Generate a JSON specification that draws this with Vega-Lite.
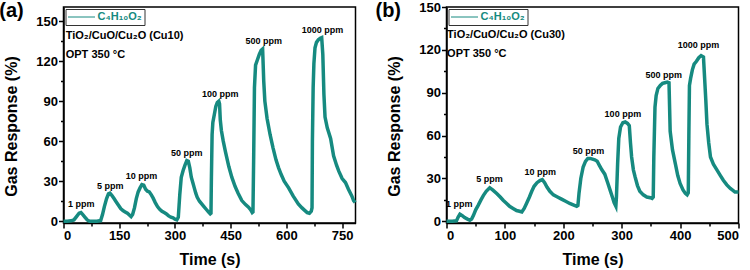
{
  "$schema": "https://vega.github.io/schema/vega-lite/v6.json",
  "padding": {"left": -2.5, "top": 0, "right": 0, "bottom": 0},
  "spacing": 11,
  "config": {
    "font": "Liberation Sans",
    "view": {"stroke": "black", "strokeWidth": 1.5},
    "axis": {
      "grid": false,
      "domainColor": "black", "domainWidth": 1.5,
      "tickColor": "black", "tickWidth": 1.5, "tickSize": 5,
      "labelFont": "Liberation Sans", "labelFontWeight": "bold", "labelFontSize": 13, "labelColor": "black", "labelPadding": 1,
      "titleFont": "Liberation Sans", "titleFontWeight": "bold", "titleFontSize": 16, "titleColor": "black"
    },
    "legend": {
      "orient": "top-left", "offset": 2, "strokeColor": "#333", "padding": 2,
      "symbolType": "stroke", "symbolStrokeWidth": 1, "symbolSize": 729, "clipHeight": 12,
      "labelFont": "Liberation Sans", "labelFontSize": 11, "labelFontWeight": "bold", "labelColor": "#168a80", "labelOffset": 2
    }
  },
  "resolve": {"scale": {"color": "independent"}, "legend": {"color": "independent"}},
  "datasets": {
    "a": [
      {"t":0,"v":0,"gas":"C₄H₁₀O₂"},{"t":10,"v":0,"gas":"C₄H₁₀O₂"},{"t":20,"v":0.3,"gas":"C₄H₁₀O₂"},{"t":28,"v":1,"gas":"C₄H₁₀O₂"},{"t":35,"v":3.5,"gas":"C₄H₁₀O₂"},{"t":42,"v":6,"gas":"C₄H₁₀O₂"},{"t":47,"v":6.5,"gas":"C₄H₁₀O₂"},{"t":52,"v":5,"gas":"C₄H₁₀O₂"},{"t":58,"v":3,"gas":"C₄H₁₀O₂"},{"t":64,"v":1,"gas":"C₄H₁₀O₂"},{"t":70,"v":0,"gas":"C₄H₁₀O₂"},{"t":80,"v":0,"gas":"C₄H₁₀O₂"},{"t":90,"v":0,"gas":"C₄H₁₀O₂"},{"t":100,"v":0.5,"gas":"C₄H₁₀O₂"},
      {"t":105,"v":5,"gas":"C₄H₁₀O₂"},{"t":110,"v":11,"gas":"C₄H₁₀O₂"},{"t":116,"v":17,"gas":"C₄H₁₀O₂"},{"t":121,"v":20.5,"gas":"C₄H₁₀O₂"},{"t":125,"v":21,"gas":"C₄H₁₀O₂"},{"t":130,"v":19.5,"gas":"C₄H₁₀O₂"},{"t":136,"v":17,"gas":"C₄H₁₀O₂"},{"t":142,"v":14.5,"gas":"C₄H₁₀O₂"},{"t":148,"v":12,"gas":"C₄H₁₀O₂"},{"t":154,"v":9.5,"gas":"C₄H₁₀O₂"},{"t":160,"v":8,"gas":"C₄H₁₀O₂"},{"t":166,"v":7,"gas":"C₄H₁₀O₂"},{"t":172,"v":6,"gas":"C₄H₁₀O₂"},{"t":178,"v":4.5,"gas":"C₄H₁₀O₂"},{"t":182,"v":3.5,"gas":"C₄H₁₀O₂"},
      {"t":186,"v":5,"gas":"C₄H₁₀O₂"},{"t":191,"v":10,"gas":"C₄H₁₀O₂"},{"t":196,"v":17,"gas":"C₄H₁₀O₂"},{"t":201,"v":22,"gas":"C₄H₁₀O₂"},{"t":206,"v":25,"gas":"C₄H₁₀O₂"},{"t":211,"v":27.5,"gas":"C₄H₁₀O₂"},{"t":216,"v":27,"gas":"C₄H₁₀O₂"},{"t":221,"v":24,"gas":"C₄H₁₀O₂"},{"t":226,"v":22.5,"gas":"C₄H₁₀O₂"},{"t":231,"v":22,"gas":"C₄H₁₀O₂"},{"t":236,"v":20,"gas":"C₄H₁₀O₂"},{"t":241,"v":17.5,"gas":"C₄H₁₀O₂"},{"t":247,"v":14,"gas":"C₄H₁₀O₂"},{"t":253,"v":11,"gas":"C₄H₁₀O₂"},{"t":259,"v":9,"gas":"C₄H₁₀O₂"},{"t":265,"v":7.5,"gas":"C₄H₁₀O₂"},{"t":271,"v":6.5,"gas":"C₄H₁₀O₂"},{"t":277,"v":5.5,"gas":"C₄H₁₀O₂"},{"t":283,"v":4,"gas":"C₄H₁₀O₂"},{"t":289,"v":3,"gas":"C₄H₁₀O₂"},{"t":295,"v":2.5,"gas":"C₄H₁₀O₂"},{"t":300,"v":1.5,"gas":"C₄H₁₀O₂"},{"t":305,"v":1,"gas":"C₄H₁₀O₂"},
      {"t":309,"v":3,"gas":"C₄H₁₀O₂"},{"t":313,"v":20,"gas":"C₄H₁₀O₂"},{"t":317,"v":33,"gas":"C₄H₁₀O₂"},{"t":322,"v":38,"gas":"C₄H₁₀O₂"},{"t":327,"v":42,"gas":"C₄H₁₀O₂"},{"t":332,"v":45.5,"gas":"C₄H₁₀O₂"},{"t":336,"v":45,"gas":"C₄H₁₀O₂"},{"t":340,"v":40,"gas":"C₄H₁₀O₂"},{"t":344,"v":33,"gas":"C₄H₁₀O₂"},{"t":348,"v":29,"gas":"C₄H₁₀O₂"},{"t":352,"v":25,"gas":"C₄H₁₀O₂"},{"t":356,"v":21,"gas":"C₄H₁₀O₂"},{"t":360,"v":18,"gas":"C₄H₁₀O₂"},{"t":366,"v":15,"gas":"C₄H₁₀O₂"},{"t":372,"v":13,"gas":"C₄H₁₀O₂"},{"t":378,"v":11,"gas":"C₄H₁₀O₂"},{"t":384,"v":9,"gas":"C₄H₁₀O₂"},{"t":390,"v":7,"gas":"C₄H₁₀O₂"},{"t":395,"v":5.5,"gas":"C₄H₁₀O₂"},{"t":397,"v":6,"gas":"C₄H₁₀O₂"},
      {"t":398,"v":30,"gas":"C₄H₁₀O₂"},{"t":400,"v":65,"gas":"C₄H₁₀O₂"},{"t":402,"v":74,"gas":"C₄H₁₀O₂"},{"t":406,"v":80,"gas":"C₄H₁₀O₂"},{"t":410,"v":86,"gas":"C₄H₁₀O₂"},{"t":414,"v":89,"gas":"C₄H₁₀O₂"},{"t":418,"v":90,"gas":"C₄H₁₀O₂"},{"t":420,"v":88,"gas":"C₄H₁₀O₂"},{"t":422,"v":76,"gas":"C₄H₁₀O₂"},{"t":425,"v":68,"gas":"C₄H₁₀O₂"},{"t":430,"v":60,"gas":"C₄H₁₀O₂"},{"t":436,"v":52,"gas":"C₄H₁₀O₂"},{"t":445,"v":41,"gas":"C₄H₁₀O₂"},{"t":453,"v":33,"gas":"C₄H₁₀O₂"},{"t":462,"v":26,"gas":"C₄H₁₀O₂"},{"t":470,"v":21,"gas":"C₄H₁₀O₂"},{"t":480,"v":15.5,"gas":"C₄H₁₀O₂"},{"t":490,"v":12.5,"gas":"C₄H₁₀O₂"},{"t":498,"v":10.5,"gas":"C₄H₁₀O₂"},{"t":504,"v":8.5,"gas":"C₄H₁₀O₂"},{"t":508,"v":6.5,"gas":"C₄H₁₀O₂"},{"t":510,"v":7,"gas":"C₄H₁₀O₂"},
      {"t":512,"v":50,"gas":"C₄H₁₀O₂"},{"t":514,"v":100,"gas":"C₄H₁₀O₂"},{"t":517,"v":117,"gas":"C₄H₁₀O₂"},{"t":522,"v":121,"gas":"C₄H₁₀O₂"},{"t":527,"v":125,"gas":"C₄H₁₀O₂"},{"t":532,"v":128,"gas":"C₄H₁₀O₂"},{"t":536,"v":129,"gas":"C₄H₁₀O₂"},{"t":539,"v":105,"gas":"C₄H₁₀O₂"},{"t":542,"v":90,"gas":"C₄H₁₀O₂"},{"t":548,"v":77,"gas":"C₄H₁₀O₂"},{"t":556,"v":65,"gas":"C₄H₁₀O₂"},{"t":564,"v":55,"gas":"C₄H₁₀O₂"},{"t":572,"v":46,"gas":"C₄H₁₀O₂"},{"t":579,"v":40,"gas":"C₄H₁₀O₂"},{"t":586,"v":35,"gas":"C₄H₁₀O₂"},{"t":594,"v":30,"gas":"C₄H₁₀O₂"},{"t":606,"v":25,"gas":"C₄H₁₀O₂"},{"t":618,"v":19,"gas":"C₄H₁₀O₂"},{"t":632,"v":13,"gas":"C₄H₁₀O₂"},{"t":642,"v":10,"gas":"C₄H₁₀O₂"},{"t":650,"v":8,"gas":"C₄H₁₀O₂"},{"t":656,"v":6.5,"gas":"C₄H₁₀O₂"},{"t":662,"v":6,"gas":"C₄H₁₀O₂"},{"t":667,"v":7.5,"gas":"C₄H₁₀O₂"},{"t":669,"v":10,"gas":"C₄H₁₀O₂"},
      {"t":670,"v":60,"gas":"C₄H₁₀O₂"},{"t":672,"v":100,"gas":"C₄H₁₀O₂"},{"t":674,"v":118,"gas":"C₄H₁₀O₂"},{"t":677,"v":130,"gas":"C₄H₁₀O₂"},{"t":681,"v":134,"gas":"C₄H₁₀O₂"},{"t":686,"v":136,"gas":"C₄H₁₀O₂"},{"t":691,"v":137,"gas":"C₄H₁₀O₂"},{"t":695,"v":137.5,"gas":"C₄H₁₀O₂"},{"t":698,"v":125,"gas":"C₄H₁₀O₂"},{"t":701,"v":95,"gas":"C₄H₁₀O₂"},{"t":704,"v":78,"gas":"C₄H₁₀O₂"},{"t":710,"v":70,"gas":"C₄H₁₀O₂"},{"t":719,"v":62,"gas":"C₄H₁₀O₂"},{"t":727,"v":49,"gas":"C₄H₁₀O₂"},{"t":735,"v":42,"gas":"C₄H₁₀O₂"},{"t":741,"v":37.5,"gas":"C₄H₁₀O₂"},{"t":750,"v":32,"gas":"C₄H₁₀O₂"},{"t":759,"v":29,"gas":"C₄H₁₀O₂"},{"t":767,"v":24,"gas":"C₄H₁₀O₂"},{"t":776,"v":19,"gas":"C₄H₁₀O₂"},{"t":781,"v":15.5,"gas":"C₄H₁₀O₂"},{"t":785,"v":14,"gas":"C₄H₁₀O₂"}
    ],
    "b": [
      {"t":0,"v":0,"gas":"C₄H₁₀O₂"},{"t":10,"v":0,"gas":"C₄H₁₀O₂"},{"t":17,"v":0.3,"gas":"C₄H₁₀O₂"},{"t":20,"v":3,"gas":"C₄H₁₀O₂"},{"t":23,"v":5,"gas":"C₄H₁₀O₂"},{"t":27,"v":4,"gas":"C₄H₁₀O₂"},{"t":31,"v":2.6,"gas":"C₄H₁₀O₂"},{"t":36,"v":1.5,"gas":"C₄H₁₀O₂"},{"t":40,"v":0.7,"gas":"C₄H₁₀O₂"},{"t":43,"v":1.5,"gas":"C₄H₁₀O₂"},{"t":46,"v":4,"gas":"C₄H₁₀O₂"},{"t":50,"v":8,"gas":"C₄H₁₀O₂"},{"t":54,"v":11,"gas":"C₄H₁₀O₂"},{"t":59,"v":15,"gas":"C₄H₁₀O₂"},{"t":63,"v":18,"gas":"C₄H₁₀O₂"},{"t":68,"v":21,"gas":"C₄H₁₀O₂"},{"t":74,"v":23.5,"gas":"C₄H₁₀O₂"},{"t":79,"v":22,"gas":"C₄H₁₀O₂"},{"t":86,"v":19.5,"gas":"C₄H₁₀O₂"},{"t":92,"v":17,"gas":"C₄H₁₀O₂"},{"t":97,"v":14.7,"gas":"C₄H₁₀O₂"},{"t":103,"v":12.5,"gas":"C₄H₁₀O₂"},{"t":108,"v":10.5,"gas":"C₄H₁₀O₂"},{"t":114,"v":9,"gas":"C₄H₁₀O₂"},{"t":120,"v":7.5,"gas":"C₄H₁₀O₂"},{"t":125,"v":7,"gas":"C₄H₁₀O₂"},{"t":129,"v":6.5,"gas":"C₄H₁₀O₂"},
      {"t":133,"v":9,"gas":"C₄H₁₀O₂"},{"t":137,"v":12.5,"gas":"C₄H₁₀O₂"},{"t":142,"v":17,"gas":"C₄H₁₀O₂"},{"t":146,"v":21,"gas":"C₄H₁₀O₂"},{"t":150,"v":24.5,"gas":"C₄H₁₀O₂"},{"t":155,"v":27,"gas":"C₄H₁₀O₂"},{"t":160,"v":28.5,"gas":"C₄H₁₀O₂"},{"t":164,"v":29.2,"gas":"C₄H₁₀O₂"},{"t":168,"v":27,"gas":"C₄H₁₀O₂"},{"t":172,"v":24,"gas":"C₄H₁₀O₂"},{"t":177,"v":21,"gas":"C₄H₁₀O₂"},{"t":183,"v":18.5,"gas":"C₄H₁₀O₂"},{"t":190,"v":17,"gas":"C₄H₁₀O₂"},{"t":197,"v":15.5,"gas":"C₄H₁₀O₂"},{"t":204,"v":14,"gas":"C₄H₁₀O₂"},{"t":211,"v":12.5,"gas":"C₄H₁₀O₂"},{"t":217,"v":11.5,"gas":"C₄H₁₀O₂"},{"t":223,"v":10.5,"gas":"C₄H₁₀O₂"},
      {"t":225,"v":11,"gas":"C₄H₁₀O₂"},{"t":227,"v":20,"gas":"C₄H₁₀O₂"},{"t":230,"v":30,"gas":"C₄H₁₀O₂"},{"t":234,"v":38,"gas":"C₄H₁₀O₂"},{"t":238,"v":42,"gas":"C₄H₁₀O₂"},{"t":242,"v":44,"gas":"C₄H₁₀O₂"},{"t":246,"v":44,"gas":"C₄H₁₀O₂"},{"t":250,"v":43.5,"gas":"C₄H₁₀O₂"},{"t":254,"v":43,"gas":"C₄H₁₀O₂"},{"t":258,"v":42,"gas":"C₄H₁₀O₂"},{"t":262,"v":39,"gas":"C₄H₁₀O₂"},{"t":266,"v":36,"gas":"C₄H₁₀O₂"},{"t":271,"v":33,"gas":"C₄H₁₀O₂"},{"t":276,"v":27,"gas":"C₄H₁₀O₂"},{"t":280,"v":22,"gas":"C₄H₁₀O₂"},{"t":284,"v":17,"gas":"C₄H₁₀O₂"},{"t":287,"v":13,"gas":"C₄H₁₀O₂"},{"t":290,"v":10.5,"gas":"C₄H₁₀O₂"},
      {"t":291,"v":17,"gas":"C₄H₁₀O₂"},{"t":293,"v":40,"gas":"C₄H₁₀O₂"},{"t":295,"v":58,"gas":"C₄H₁₀O₂"},{"t":298,"v":66,"gas":"C₄H₁₀O₂"},{"t":302,"v":69,"gas":"C₄H₁₀O₂"},{"t":306,"v":69.5,"gas":"C₄H₁₀O₂"},{"t":310,"v":68.5,"gas":"C₄H₁₀O₂"},{"t":313,"v":67,"gas":"C₄H₁₀O₂"},{"t":315,"v":55,"gas":"C₄H₁₀O₂"},{"t":317,"v":45,"gas":"C₄H₁₀O₂"},{"t":320,"v":36,"gas":"C₄H₁₀O₂"},{"t":323,"v":31,"gas":"C₄H₁₀O₂"},{"t":327,"v":25,"gas":"C₄H₁₀O₂"},{"t":331,"v":21,"gas":"C₄H₁₀O₂"},{"t":337,"v":18.5,"gas":"C₄H₁₀O₂"},{"t":343,"v":17,"gas":"C₄H₁₀O₂"},{"t":349,"v":16.5,"gas":"C₄H₁₀O₂"},{"t":352,"v":16,"gas":"C₄H₁₀O₂"},{"t":354,"v":17,"gas":"C₄H₁₀O₂"},
      {"t":355,"v":45,"gas":"C₄H₁₀O₂"},{"t":357,"v":80,"gas":"C₄H₁₀O₂"},{"t":359,"v":88,"gas":"C₄H₁₀O₂"},{"t":362,"v":93,"gas":"C₄H₁₀O₂"},{"t":366,"v":95,"gas":"C₄H₁₀O₂"},{"t":370,"v":96.5,"gas":"C₄H₁₀O₂"},{"t":374,"v":97,"gas":"C₄H₁₀O₂"},{"t":378,"v":97.5,"gas":"C₄H₁₀O₂"},{"t":381,"v":97,"gas":"C₄H₁₀O₂"},{"t":383,"v":63,"gas":"C₄H₁₀O₂"},{"t":387,"v":50,"gas":"C₄H₁₀O₂"},{"t":392,"v":40,"gas":"C₄H₁₀O₂"},{"t":396,"v":32,"gas":"C₄H₁₀O₂"},{"t":400,"v":26.5,"gas":"C₄H₁₀O₂"},{"t":405,"v":22,"gas":"C₄H₁₀O₂"},{"t":409,"v":19.5,"gas":"C₄H₁₀O₂"},{"t":412,"v":18.5,"gas":"C₄H₁₀O₂"},{"t":414,"v":20,"gas":"C₄H₁₀O₂"},
      {"t":415,"v":60,"gas":"C₄H₁₀O₂"},{"t":416,"v":95,"gas":"C₄H₁₀O₂"},{"t":418,"v":100,"gas":"C₄H₁₀O₂"},{"t":421,"v":106,"gas":"C₄H₁₀O₂"},{"t":424,"v":110,"gas":"C₄H₁₀O₂"},{"t":428,"v":112,"gas":"C₄H₁₀O₂"},{"t":432,"v":114.5,"gas":"C₄H₁₀O₂"},{"t":436,"v":116,"gas":"C₄H₁₀O₂"},{"t":440,"v":115,"gas":"C₄H₁₀O₂"},{"t":442,"v":100,"gas":"C₄H₁₀O₂"},{"t":444,"v":85,"gas":"C₄H₁₀O₂"},{"t":446,"v":68,"gas":"C₄H₁₀O₂"},{"t":449,"v":55,"gas":"C₄H₁₀O₂"},{"t":452,"v":45,"gas":"C₄H₁₀O₂"},{"t":457,"v":40,"gas":"C₄H₁₀O₂"},{"t":463,"v":36,"gas":"C₄H₁₀O₂"},{"t":469,"v":32,"gas":"C₄H₁₀O₂"},{"t":474,"v":28.7,"gas":"C₄H₁₀O₂"},{"t":480,"v":25.5,"gas":"C₄H₁₀O₂"},{"t":486,"v":23,"gas":"C₄H₁₀O₂"},{"t":491,"v":21.5,"gas":"C₄H₁₀O₂"},{"t":494,"v":20.5,"gas":"C₄H₁₀O₂"},{"t":500,"v":20.5,"gas":"C₄H₁₀O₂"}
    ],
    "la": [
      {"t":48,"v":10.5,"label":"1 ppm"},{"t":126,"v":24.2,"label":"5 ppm"},{"t":210,"v":31.7,"label":"10 ppm"},{"t":332,"v":49,"label":"50 ppm"},{"t":422,"v":93.4,"label":"100 ppm"},{"t":539,"v":132.6,"label":"500 ppm"},{"t":697,"v":141.3,"label":"1000 ppm"}
    ],
    "lb": [
      {"t":22,"v":10,"label":"1 ppm"},{"t":73.6,"v":27.5,"label":"5 ppm"},{"t":160.7,"v":32.7,"label":"10 ppm"},{"t":243,"v":47.4,"label":"50 ppm"},{"t":302,"v":73,"label":"100 ppm"},{"t":372,"v":100.6,"label":"500 ppm"},{"t":431.5,"v":121.3,"label":"1000 ppm"}
    ],
    "na": [
      {"t":6,"v":136.8,"label":"TiO₂/CuO/Cu₂O (Cu10)"},{"t":6,"v":122.6,"label":"OPT 350 °C"}
    ],
    "nb": [
      {"t":1,"v":128.3,"label":"TiO₂/CuO/Cu₂O (Cu30)"},{"t":1,"v":115,"label":"OPT 350 °C"}
    ]
  },
  "hconcat": [
    {
      "width": 292, "height": 216,
      "layer": [
        {
          "data": {"name": "a"},
          "mark": {"type": "line", "strokeWidth": 3.5},
          "encoding": {
            "x": {"field": "t", "type": "quantitative", "scale": {"domain": [0, 786], "nice": false, "zero": false},
                  "axis": {"orient": "bottom", "values": [0,150,300,450,600,750], "title": "Time (s)", "titlePadding": 9}},
            "y": {"field": "v", "type": "quantitative", "scale": {"domain": [-1.3, 160.5], "nice": false, "zero": false},
                  "axis": {"orient": "left", "values": [0,30,60,90,120,150], "title": "Gas Response (%)", "titleX": -47, "titleY": 119, "titleBaseline": "alphabetic"}},
            "color": {"field": "gas", "type": "nominal", "scale": {"range": ["#168a80"]}, "legend": {"title": null}}
          }
        },
        {
          "data": {"name": "la"},
          "mark": {"type": "text", "fontSize": 9, "fontWeight": "bold", "baseline": "alphabetic", "color": "black"},
          "encoding": {
            "x": {"field": "t", "type": "quantitative", "axis": {"orient": "bottom", "values": [75,225,375,525,675], "labels": false, "domain": false, "tickSize": 3, "title": null}},
            "y": {"field": "v", "type": "quantitative", "axis": {"orient": "left", "values": [15,45,75,105,135], "labels": false, "domain": false, "tickSize": 3, "title": null}},
            "text": {"field": "label"}
          }
        },
        {
          "data": {"name": "na"},
          "mark": {"type": "text", "fontSize": 11, "fontWeight": "bold", "align": "left", "baseline": "alphabetic", "color": "black"},
          "encoding": {
            "x": {"field": "t", "type": "quantitative", "axis": null},
            "y": {"field": "v", "type": "quantitative", "axis": null},
            "text": {"field": "label"}
          }
        },
        {
          "data": {"values": [{}]},
          "mark": {"type": "text", "text": "(a)", "fontSize": 20, "fontWeight": "bold", "align": "left", "baseline": "alphabetic", "color": "black", "clip": false},
          "encoding": {
            "x": {"datum": -173, "type": "quantitative", "axis": null},
            "y": {"datum": 153, "type": "quantitative", "axis": null}
          }
        }
      ],
      "resolve": {"axis": {"x": "independent", "y": "independent"}}
    },
    {
      "width": 292, "height": 216,
      "layer": [
        {
          "data": {"name": "b"},
          "mark": {"type": "line", "strokeWidth": 3.5},
          "encoding": {
            "x": {"field": "t", "type": "quantitative", "scale": {"domain": [0, 500], "nice": false, "zero": false},
                  "axis": {"orient": "bottom", "values": [0,100,200,300,400,500], "title": "Time (s)", "titlePadding": 9}},
            "y": {"field": "v", "type": "quantitative", "scale": {"domain": [-1.2, 150], "nice": false, "zero": false},
                  "axis": {"orient": "left", "values": [0,30,60,90,120,150], "title": "Gas Response (%)", "titleX": -47, "titleY": 119, "titleBaseline": "alphabetic"}},
            "color": {"field": "gas", "type": "nominal", "scale": {"range": ["#168a80"]}, "legend": {"title": null}}
          }
        },
        {
          "data": {"name": "lb"},
          "mark": {"type": "text", "fontSize": 9, "fontWeight": "bold", "baseline": "alphabetic", "color": "black"},
          "encoding": {
            "x": {"field": "t", "type": "quantitative", "axis": {"orient": "bottom", "values": [50,150,250,350,450], "labels": false, "domain": false, "tickSize": 3, "title": null}},
            "y": {"field": "v", "type": "quantitative", "axis": {"orient": "left", "values": [15,45,75,105,135], "labels": false, "domain": false, "tickSize": 3, "title": null}},
            "text": {"field": "label"}
          }
        },
        {
          "data": {"name": "nb"},
          "mark": {"type": "text", "fontSize": 11, "fontWeight": "bold", "align": "left", "baseline": "alphabetic", "color": "black"},
          "encoding": {
            "x": {"field": "t", "type": "quantitative", "axis": null},
            "y": {"field": "v", "type": "quantitative", "axis": null},
            "text": {"field": "label"}
          }
        },
        {
          "data": {"values": [{}]},
          "mark": {"type": "text", "text": "(b)", "fontSize": 20, "fontWeight": "bold", "align": "left", "baseline": "alphabetic", "color": "black", "clip": false},
          "encoding": {
            "x": {"datum": -121.6, "type": "quantitative", "axis": null},
            "y": {"datum": 143, "type": "quantitative", "axis": null}
          }
        }
      ],
      "resolve": {"axis": {"x": "independent", "y": "independent"}}
    }
  ]
}
